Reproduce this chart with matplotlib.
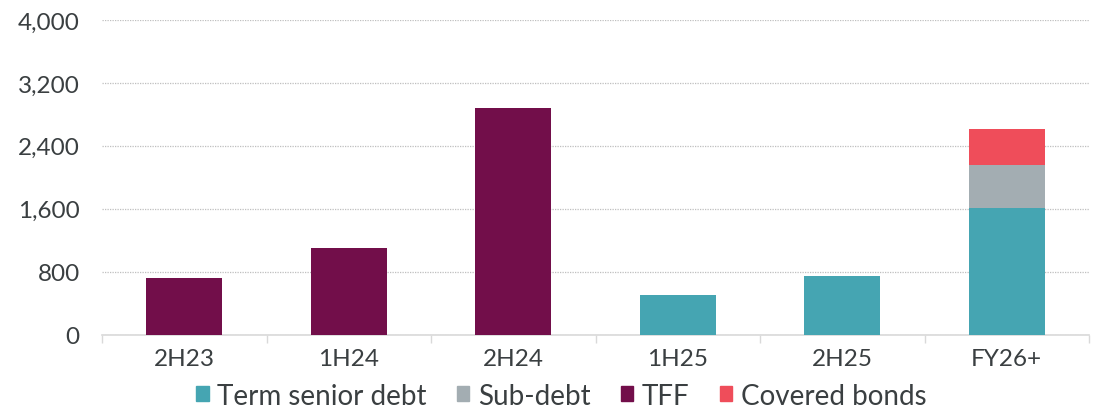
import numpy as np
import matplotlib.pyplot as plt
from matplotlib.patches import Patch

categories = ["2H23", "1H24", "2H24", "1H25", "2H25", "FY26+"]
term_senior = [0, 0, 0, 500, 750, 1610]
sub_debt = [0, 0, 0, 0, 0, 550]
tff = [720, 1100, 2880, 0, 0, 0]
covered = [0, 0, 0, 0, 0, 455]

colors = {"Term senior debt": "#45A5B2", "Sub-debt": "#A3ADB2",
          "TFF": "#720E4A", "Covered bonds": "#EF4D5A"}
text_col = "#3A3F41"

plt.rcParams['font.family'] = ['Lato', 'DejaVu Sans']

fig = plt.figure(figsize=(10.94, 4.14), dpi=100)
ax = fig.add_axes([102/1094, 1 - 335.5/414, 987/1094, 314.5/414])

x = np.arange(len(categories))
w = 0.46
bottom = np.zeros(len(categories))
for name, vals in [("Term senior debt", term_senior), ("Sub-debt", sub_debt),
                   ("TFF", tff), ("Covered bonds", covered)]:
    vals = np.array(vals, dtype=float)
    ax.bar(x, vals, w, bottom=bottom, color=colors[name], zorder=3)
    bottom += vals

ax.set_xlim(-0.5, len(categories) - 0.5)
ax.set_ylim(0, 4000)
ax.set_yticks(np.arange(0, 4001, 800))
ax.set_yticklabels([f"{v:,}" for v in range(0, 4001, 800)])
ax.yaxis.grid(True, linestyle=(0, (1, 1)), color="#BFBFBF", linewidth=0.9, zorder=0)
ax.tick_params(axis="y", length=0, pad=16, labelsize=17.5, labelcolor=text_col)

ax.set_xticks(x)
ax.set_xticklabels(categories)
ax.tick_params(axis="x", length=0, pad=10, labelsize=17.5, labelcolor=text_col)
ax.set_xticks(np.arange(-0.5, len(categories)), minor=True)
ax.tick_params(axis="x", which="minor", length=6, color="#D9D9D9", width=1)

for s in ["top", "right", "left"]:
    ax.spines[s].set_visible(False)
ax.spines["bottom"].set_color("#D9D9D9")
ax.spines["bottom"].set_linewidth(1.2)

handles = [Patch(color=c, label=n) for n, c in colors.items()]
fig.legend(handles=handles, loc="lower center", bbox_to_anchor=(0.513, -0.05),
           ncol=4, frameon=False, fontsize=20, handlelength=0.45, handleheight=0.45,
           handletextpad=0.3, columnspacing=1.1, labelcolor=text_col)

fig.savefig("out.png", dpi=100)
